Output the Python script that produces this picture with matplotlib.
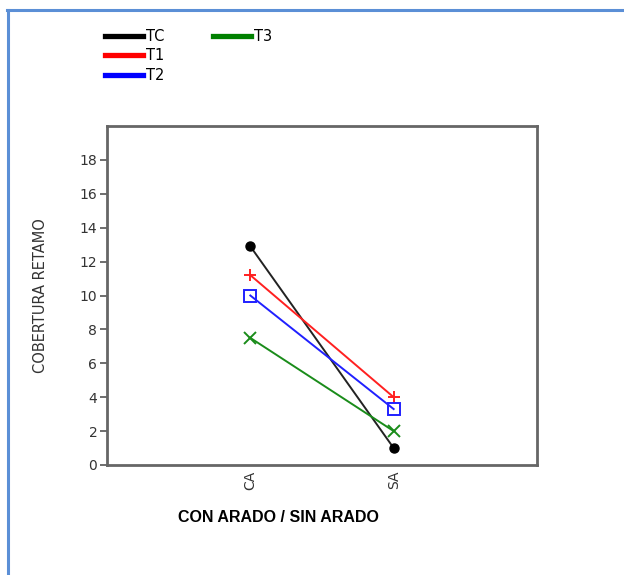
import matplotlib.pyplot as plt
from matplotlib.lines import Line2D

plt.rcParams['font.family'] = ['DejaVu Sans']

# Chart data
categories = ['CA', 'SA']
series_names = ['TC', 'T1', 'T2', 'T3']
tc_values = [12.9, 1.0]
t1_values = [11.2, 4.0]
t2_values = [10.0, 3.3]
t3_values = [7.5, 2.0]
y_ticks = [0, 2, 4, 6, 8, 10, 12, 14, 16, 18]

colors = {'TC': '#222222', 'T1': '#ff2020', 'T2': '#2020ff', 'T3': '#1a8c1a'}
legend_colors = {'TC': '#000000', 'T1': '#ff0000', 'T2': '#0000ff', 'T3': '#008000'}

fig = plt.figure(figsize=(6.24, 5.75), dpi=100)
ax = fig.add_axes([107 / 624, 110 / 575, 430 / 624, 339 / 575])

x = [1, 2]
ax.plot(x, tc_values, color=colors['TC'], lw=1.4, marker='o', ms=6.5,
        markerfacecolor='black', markeredgecolor='black')
ax.plot(x, t1_values, color=colors['T1'], lw=1.4, marker='+', ms=9, mew=1.4)
ax.plot(x, t2_values, color=colors['T2'], lw=1.4, marker='s', ms=8,
        markerfacecolor='none', mew=1.4)
ax.plot(x, t3_values, color=colors['T3'], lw=1.4, marker='x', ms=8, mew=1.4)

ax.set_xlim(0, 3)
ax.set_ylim(0, 20)
ax.set_xticks(x)
ax.set_xticklabels(categories, rotation=90, fontsize=10, color='#333333')
ax.set_yticks(y_ticks)
ax.set_yticklabels([str(v) for v in y_ticks], fontsize=10, color='#333333')
ax.tick_params(axis='y', length=5, width=1.2, color='#555555', pad=2)
ax.tick_params(axis='x', length=0, pad=4)
for sp in ax.spines.values():
    sp.set_color('#666666')
    sp.set_linewidth(2)

ax.set_ylabel('COBERTURA RETAMO', fontsize=10.5, color='#333333', labelpad=23)
fig.text(278 / 624, 1 - 517 / 575, 'CON ARADO / SIN ARADO', ha='center', va='center',
         fontsize=11.5, fontweight='bold', family='Liberation Sans')

# Legend: first column TC, T1, T2; second column T3
def proxy(name):
    return Line2D([], [], color=legend_colors[name], lw=3.8)

leg_kw = dict(loc='upper left', frameon=False, fontsize=10.5, handlelength=2.6,
              handletextpad=0.2, labelspacing=0.3, borderaxespad=0, borderpad=0)
fig.legend([proxy(n) for n in series_names[:3]], series_names[:3],
           bbox_to_anchor=(105 / 624, 1 - 29 / 575), **leg_kw)
fig.legend([proxy('T3')], ['T3'], bbox_to_anchor=(213 / 624, 1 - 29 / 575), **leg_kw)

# Blue frame on top and left
fig.add_artist(Line2D([7 / 624, 1.0], [1 - 9.5 / 575, 1 - 9.5 / 575],
                      color='#5b8fd6', lw=2.2, transform=fig.transFigure))
fig.add_artist(Line2D([7.5 / 624, 7.5 / 624], [0, 1 - 9.5 / 575],
                      color='#5b8fd6', lw=2.2, transform=fig.transFigure))

fig.savefig('out.png', dpi=100)
